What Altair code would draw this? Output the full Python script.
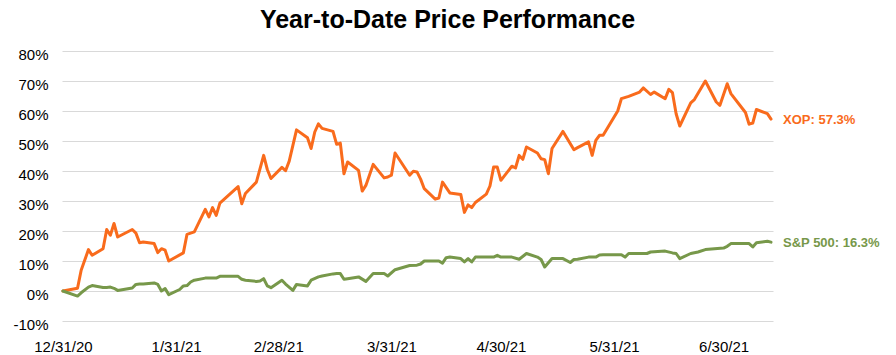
import altair as alt
import pandas as pd

FONT = "Liberation Sans"

# ---- data (YTD % change) ----
xop_dates = [
    "2020-12-31", "2021-01-04", "2021-01-05", "2021-01-07", "2021-01-08", "2021-01-11",
    "2021-01-12", "2021-01-13", "2021-01-14", "2021-01-15", "2021-01-19", "2021-01-20",
    "2021-01-21", "2021-01-22", "2021-01-25", "2021-01-26", "2021-01-27", "2021-01-28",
    "2021-01-29", "2021-02-02", "2021-02-03", "2021-02-05", "2021-02-08", "2021-02-09",
    "2021-02-10", "2021-02-11", "2021-02-12", "2021-02-17", "2021-02-18", "2021-02-19",
    "2021-02-22", "2021-02-24", "2021-02-25", "2021-02-26", "2021-03-01", "2021-03-02",
    "2021-03-03", "2021-03-05", "2021-03-08", "2021-03-09", "2021-03-10", "2021-03-11",
    "2021-03-12", "2021-03-15", "2021-03-16", "2021-03-17", "2021-03-18", "2021-03-19",
    "2021-03-22", "2021-03-23", "2021-03-24", "2021-03-26", "2021-03-29", "2021-03-30",
    "2021-03-31", "2021-04-01", "2021-04-05", "2021-04-06", "2021-04-07", "2021-04-08",
    "2021-04-09", "2021-04-12", "2021-04-13", "2021-04-14", "2021-04-16", "2021-04-19",
    "2021-04-20", "2021-04-21", "2021-04-22", "2021-04-23", "2021-04-26", "2021-04-27",
    "2021-04-28", "2021-04-29", "2021-04-30", "2021-05-03", "2021-05-04", "2021-05-05",
    "2021-05-06", "2021-05-07", "2021-05-10", "2021-05-11", "2021-05-12", "2021-05-13",
    "2021-05-14", "2021-05-17", "2021-05-20", "2021-05-21", "2021-05-24", "2021-05-25",
    "2021-05-26", "2021-05-27", "2021-05-28", "2021-06-01", "2021-06-02", "2021-06-04",
    "2021-06-07", "2021-06-08", "2021-06-10", "2021-06-11", "2021-06-14", "2021-06-15",
    "2021-06-16", "2021-06-17", "2021-06-18", "2021-06-21", "2021-06-22", "2021-06-25",
    "2021-06-28", "2021-06-29", "2021-07-01", "2021-07-02", "2021-07-06", "2021-07-07",
    "2021-07-08", "2021-07-09", "2021-07-12", "2021-07-13",
]
xop_values = [
    0.0, 0.9, 6.9, 13.8, 11.9, 14.1,
    20.5, 18.6, 22.5, 18.0, 20.5, 19.3,
    16.1, 16.3, 15.8, 12.8, 14.1, 13.6,
    10.0, 12.7, 18.9, 19.7, 27.2, 24.7,
    27.8, 25.2, 29.3, 34.8, 29.1, 32.5,
    36.3, 45.2, 40.5, 37.5, 41.2, 40.1,
    43.3, 53.7, 51.1, 47.5, 53.0, 55.7,
    54.2, 53.2, 48.9, 49.3, 39.1, 43.0,
    40.2, 33.3, 35.2, 42.2, 37.7, 38.0,
    38.6, 46.0, 38.6, 39.9, 39.7, 37.3,
    34.1, 30.6, 31.0, 36.3, 32.7, 32.2,
    26.2, 28.7, 27.8, 29.5, 32.3, 35.0,
    41.3, 41.3, 36.9, 41.6, 41.0, 45.2,
    43.9, 48.0, 46.0, 44.1, 43.8, 39.1,
    47.5, 53.2, 47.1, 47.8, 49.7, 45.2,
    50.2, 51.9, 51.9, 60.0, 64.1, 64.9,
    66.3, 67.7, 65.5, 66.3, 64.1, 67.2,
    66.1, 59.1, 55.0, 62.7, 63.8, 70.0,
    63.0, 61.9, 69.1, 65.8, 59.5, 55.6,
    56.0, 60.5, 59.1, 57.3,
]

spx_dates = [
    "2020-12-31", "2021-01-04", "2021-01-05", "2021-01-07", "2021-01-08", "2021-01-11",
    "2021-01-12", "2021-01-13", "2021-01-14", "2021-01-15", "2021-01-19", "2021-01-20",
    "2021-01-21", "2021-01-22", "2021-01-25", "2021-01-26", "2021-01-27", "2021-01-28",
    "2021-01-29", "2021-02-01", "2021-02-02", "2021-02-03", "2021-02-04", "2021-02-05",
    "2021-02-08", "2021-02-11", "2021-02-12", "2021-02-17", "2021-02-18", "2021-02-19",
    "2021-02-22", "2021-02-23", "2021-02-24", "2021-02-25", "2021-02-26", "2021-03-01",
    "2021-03-02", "2021-03-04", "2021-03-05", "2021-03-08", "2021-03-09", "2021-03-11",
    "2021-03-12", "2021-03-15", "2021-03-16", "2021-03-17", "2021-03-18", "2021-03-19",
    "2021-03-22", "2021-03-24", "2021-03-26", "2021-03-29", "2021-03-30", "2021-04-01",
    "2021-04-05", "2021-04-07", "2021-04-08", "2021-04-09", "2021-04-13", "2021-04-14",
    "2021-04-15", "2021-04-16", "2021-04-19", "2021-04-20", "2021-04-21", "2021-04-22",
    "2021-04-23", "2021-04-28", "2021-04-29", "2021-04-30", "2021-05-03", "2021-05-05",
    "2021-05-07", "2021-05-10", "2021-05-11", "2021-05-12", "2021-05-14", "2021-05-17",
    "2021-05-19", "2021-05-20", "2021-05-21", "2021-05-24", "2021-05-26", "2021-05-27",
    "2021-05-28", "2021-06-02", "2021-06-03", "2021-06-04", "2021-06-09", "2021-06-10",
    "2021-06-14", "2021-06-16", "2021-06-17", "2021-06-18", "2021-06-21", "2021-06-23",
    "2021-06-25", "2021-06-30", "2021-07-01", "2021-07-02", "2021-07-07", "2021-07-08",
    "2021-07-09", "2021-07-12", "2021-07-13",
]
spx_values = [
    0.0, -1.7, -0.6, 1.3, 1.8, 1.2,
    1.2, 1.3, 0.9, 0.2, 1.0, 2.2,
    2.3, 2.3, 2.7, 2.2, 0.0, 0.8,
    -1.2, 0.5, 1.7, 1.8, 3.0, 3.6,
    4.3, 4.3, 4.9, 4.9, 3.9, 3.6,
    3.2, 3.3, 4.1, 1.7, 1.1, 3.6,
    2.3, 0.2, 2.2, 1.7, 3.6, 4.7,
    5.0, 5.7, 5.8, 5.8, 3.9, 4.1,
    4.7, 3.2, 5.8, 5.8, 5.0, 7.1,
    8.5, 8.6, 9.0, 10.0, 10.0, 9.3,
    11.1, 11.3, 10.8, 9.7, 10.8, 9.7,
    11.3, 11.3, 11.9, 11.3, 11.3, 10.6,
    12.5, 11.3, 10.5, 8.0, 10.8, 10.8,
    9.5, 10.5, 10.6, 11.3, 11.3, 12.0,
    12.1, 12.1, 11.3, 12.5, 12.5, 13.0,
    13.3, 12.7, 12.5, 10.8, 12.5, 13.0,
    13.8, 14.3, 14.9, 15.8, 15.8, 14.7,
    16.1, 16.6, 16.3,
]

series_names = ["XOP", "S&P 500"]
series_colors = ["#F96B1C", "#77984A"]
x_tick_dates = [(2020, 12, 31), (2021, 1, 31), (2021, 2, 28), (2021, 3, 31),
                (2021, 4, 30), (2021, 5, 31), (2021, 6, 30)]
y_ticks = [-10, 0, 10, 20, 30, 40, 50, 60, 70, 80]
title_text = "Year-to-Date Price Performance"

# ---- tables ----
df = pd.concat([
    pd.DataFrame({"date": xop_dates, "value": xop_values, "series": series_names[0]}),
    pd.DataFrame({"date": spx_dates, "value": spx_values, "series": series_names[1]}),
], ignore_index=True)

end_df = df.groupby("series", sort=False).tail(1).copy()
end_df["label"] = end_df["series"] + ": " + end_df["value"].map(lambda v: f"{v:.1f}%")

color_scale = alt.Scale(domain=series_names, range=series_colors)
x_scale = alt.Scale(
    type="utc",
    domain=[alt.DateTime(year=2020, month=12, date=30, hours=18, utc=True),
            alt.DateTime(year=2021, month=7, date=13, hours=13, utc=True)],
)
y_scale = alt.Scale(domain=[-10, 80], nice=False, zero=False)

x_axis = alt.Axis(
    values=[alt.DateTime(year=y, month=m, date=d, utc=True) for (y, m, d) in x_tick_dates],
    tickCount=len(x_tick_dates) + 2,
    format="%-m/%-d/%y", grid=False, domain=False, ticks=False, tickSize=0,
    labelPadding=18, labelFontSize=15, labelFont=FONT, labelColor="#000000",
    labelFlush=False, labelOverlap=False, title=None,
)
y_axis = alt.Axis(
    values=y_ticks, tickCount=len(y_ticks) + 2, labelExpr="datum.value + '%'",
    grid=True, gridColor="#D9D9D9",
    gridWidth=1, domain=False, ticks=False, tickSize=0, labelPadding=14, labelOffset=3,
    labelFontSize=15, labelFont=FONT, labelColor="#000000", labelOverlap=False,
    labelFlush=False, title=None,
)

lines = alt.Chart(df).mark_line(strokeWidth=3, strokeJoin="round", strokeCap="round").encode(
    x=alt.X("date:T", scale=x_scale, axis=x_axis),
    y=alt.Y("value:Q", scale=y_scale, axis=y_axis),
    color=alt.Color("series:N", scale=color_scale, legend=None),
    detail="series:N",
)

labels = alt.Chart(end_df).mark_text(
    align="left", baseline="middle", dx=12, dy=1, fontSize=13, fontWeight="bold", font=FONT,
).encode(
    x=alt.X("date:T", scale=x_scale),
    y=alt.Y("value:Q", scale=y_scale),
    text="label:N",
    color=alt.Color("series:N", scale=color_scale, legend=None),
)

chart = alt.layer(lines, labels).properties(
    width=711,
    height=270,
    padding={"left": 62, "top": 51, "right": 123, "bottom": 34},
    autosize=alt.AutoSizeParams(type="none"),
    title=alt.TitleParams(
        title_text, fontSize=25, fontWeight="bold", font=FONT, color="#000000",
        anchor="middle", frame="group", dx=30, dy=23, offset=17, baseline="alphabetic",
    ),
    background="white",
).configure_view(stroke=None)

chart.save("out.html", embed_options={"renderer": "svg", "actions": False})
